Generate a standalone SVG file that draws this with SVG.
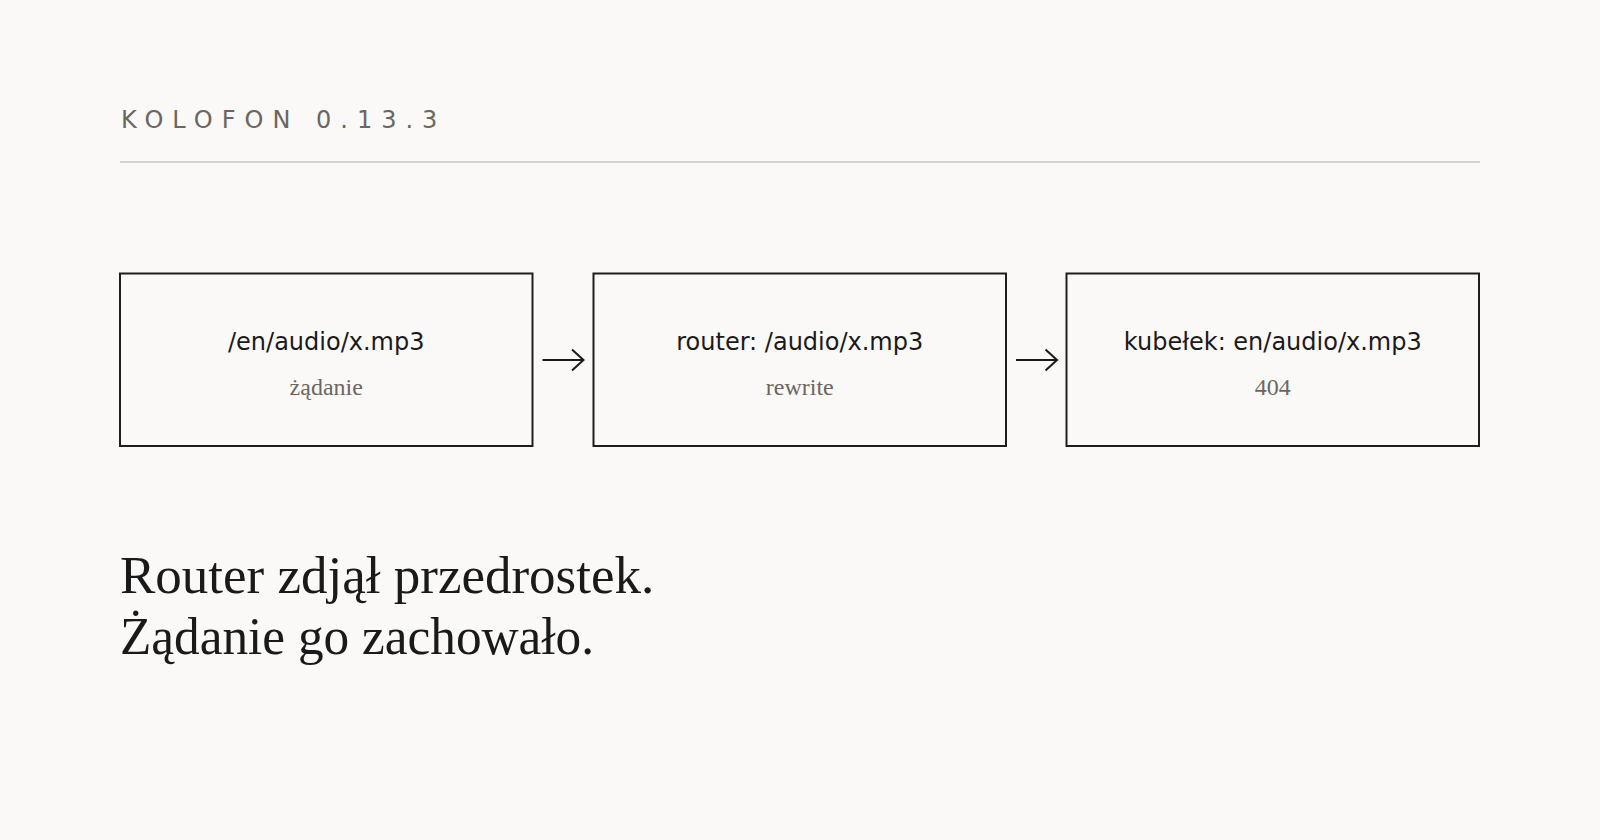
<svg xmlns="http://www.w3.org/2000/svg" width="1600" height="840" viewBox="0 0 1600 840">
  <defs>
    <style>
      .box { fill: #faf9f7; stroke: #1e1e1e; stroke-width: 2; }
      .main { font-family: "DejaVu Sans", sans-serif; font-size: 24px; fill: #1a1a1a; text-anchor: middle; }
      .sub { font-family: "Liberation Serif", "DejaVu Serif", serif; font-size: 24px; fill: #6b6661; text-anchor: middle; }
      .arrow { fill: none; stroke: #1a1a1a; stroke-width: 2; stroke-linecap: butt; stroke-linejoin: miter; }
      .head { font-family: "Liberation Serif", "DejaVu Serif", serif; font-size: 53px; fill: #1a1a1a; }
    </style>
  </defs>
  <rect x="0" y="0" width="1600" height="840" fill="#faf9f7"/>

  <g id="header">
    <text x="121" y="128" font-family="DejaVu Sans, sans-serif" font-size="24" letter-spacing="9" fill="#6b6661">KOLOFON 0.13.3</text>
    <line x1="120" y1="162" x2="1480" y2="162" stroke="#c9c6c1" stroke-width="1.5"/>
  </g>

  <g id="node-request">
    <rect class="box" x="120" y="273.5" width="412.5" height="172.5"/>
    <text class="main" x="326.25" y="349.5">/en/audio/x.mp3</text>
    <text class="sub" x="326.25" y="395">żądanie</text>
  </g>

  <g id="node-router">
    <rect class="box" x="593.5" y="273.5" width="412.5" height="172.5"/>
    <text class="main" x="799.75" y="349.5">router: /audio/x.mp3</text>
    <text class="sub" x="799.75" y="395">rewrite</text>
  </g>

  <g id="node-bucket">
    <rect class="box" x="1066.5" y="273.5" width="412.5" height="172.5"/>
    <text class="main" x="1272.75" y="349.5">kubełek: en/audio/x.mp3</text>
    <text class="sub" x="1272.75" y="395">404</text>
  </g>

  <g id="connectors">
    <path class="arrow" d="M542.5 360 H583.5 M572 349.5 L583.5 360 L572 370.5"/>
    <path class="arrow" d="M1016 360 H1057 M1045.5 349.5 L1057 360 L1045.5 370.5"/>
  </g>

  <g id="headline">
    <text class="head" x="120" y="592.5">Router zdjął przedrostek.</text>
    <text class="head" x="120" y="653.5" textLength="474" lengthAdjust="spacingAndGlyphs">Żądanie go zachowało.</text>
  </g>
</svg>
